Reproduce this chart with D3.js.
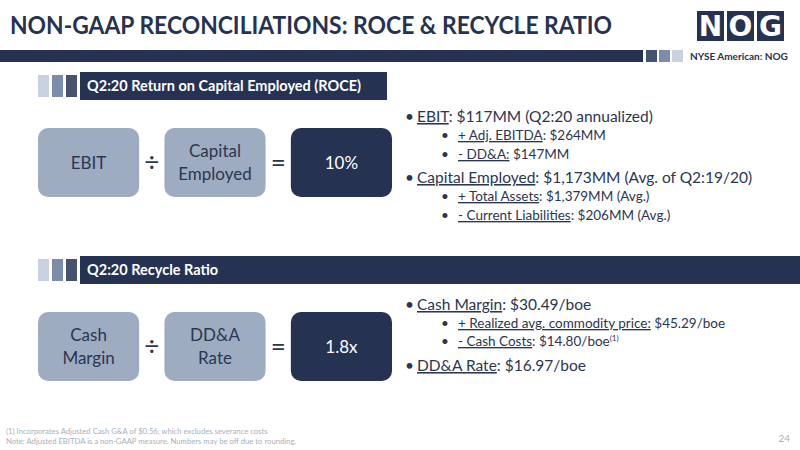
<!DOCTYPE html>
<html><head><meta charset="utf-8">
<script src="https://cdn.jsdelivr.net/npm/d3@7"></script>
<style>body{margin:0;background:#fff}</style>
</head><body>
<script>
const NAVY = "#263252", GREYBOX = "#9eacc2", TEXT = "#2b3650";
const sections = ["Q2:20 Return on Capital Employed (ROCE)", "Q2:20 Recycle Ratio"];
const numerators = [["EBIT"], ["Cash", "Margin"]];
const denominators = [["Capital", "Employed"], ["DD&A", "Rate"]];
const results = ["10%", "1.8x"];
// level, underlined label, rest, superscript
const bullets1 = [
  [0, "EBIT", ": $117MM (Q2:20 annualized)", ""],
  [1, "+ Adj. EBITDA", ": $264MM", ""],
  [1, "- DD&A:", " $147MM", ""],
  [0, "Capital Employed", ": $1,173MM (Avg. of Q2:19/20)", ""],
  [1, "+ Total Assets", ": $1,379MM (Avg.)", ""],
  [1, "- Current Liabilities", ": $206MM (Avg.)", ""]
];
const bullets2 = [
  [0, "Cash Margin", ": $30.49/boe", ""],
  [1, "+ Realized avg. commodity price:", " $45.29/boe", ""],
  [1, "- Cash Costs", ": $14.80/boe", "(1)"],
  [0, "DD&A Rate", ": $16.97/boe", ""]
];
const footnotes = ["(1) Incorporates Adjusted Cash G&A of $0.56, which excludes severance costs",
  "Note: Adjusted EBITDA is a non-GAAP measure. Numbers may be off due to rounding."];

const svg = d3.select("body").append("svg").attr("width", 800).attr("height", 450)
  .style("font-family", "Lato, 'Open Sans', sans-serif");

svg.append("text").attr("x", 10).attr("y", 34).attr("fill", NAVY)
  .attr("font-size", 24).attr("font-weight", "bold").attr("textLength", 602).attr("lengthAdjust", "spacingAndGlyphs")
  .text("NON-GAAP RECONCILIATIONS: ROCE & RECYCLE RATIO");
svg.append("rect").attr("x", 0).attr("y", 50).attr("width", 643).attr("height", 12).attr("fill", NAVY);
[["#46536f", 646], ["#7c8dab", 659], ["#cad2df", 672]].forEach(([c, x]) =>
  svg.append("rect").attr("x", x).attr("y", 50).attr("width", 11).attr("height", 12).attr("fill", c));
// logo
["N", "O", "G"].forEach((ch, i) => {
  svg.append("rect").attr("x", 697 + i * 30).attr("y", 11).attr("width", 27).attr("height", 30).attr("fill", NAVY);
  svg.append("text").attr("x", 710.5 + i * 30).attr("y", 36).attr("text-anchor", "middle")
    .attr("fill", "#fff").attr("font-size", 28).attr("font-weight", "900").attr("font-family", "'DejaVu Sans', sans-serif").text(ch);
});
svg.append("text").attr("x", 690).attr("y", 60).attr("fill", NAVY).attr("font-size", 10)
  .attr("font-weight", "bold").text("NYSE American: NOG");

const y = d3.scaleOrdinal().domain([0, 1]).range([72, 256]);
const boxX = d3.scaleBand().domain([0, 1, 2]).range([38, 392]).paddingInner(0.2);

sections.forEach((title, s) => {
  const top = y(s);
  [["#cad2df", 38], ["#7c8dab", 52], ["#46536f", 66]].forEach(([c, x]) =>
    svg.append("rect").attr("x", x).attr("y", top + 3).attr("width", 11).attr("height", 22).attr("fill", c));
  svg.append("rect").attr("x", 80).attr("y", top).attr("width", 307).attr("height", 28).attr("fill", NAVY);
  svg.append("text").attr("x", 87).attr("y", top + 19).attr("fill", "#fff").attr("font-size", 14.5)
    .attr("font-weight", "bold").text(title);
  if (s === 1) svg.append("rect").attr("x", 387).attr("y", top).attr("width", 413).attr("height", 28).attr("fill", NAVY);

  const by = top + 56, bh = 69;
  const labels = [numerators[s], denominators[s], [results[s]]];
  labels.forEach((lines, i) => {
    const x = boxX(i), w = boxX.bandwidth();
    svg.append("rect").attr("x", x).attr("y", by).attr("width", w).attr("height", bh).attr("rx", 10)
      .attr("fill", i === 2 ? NAVY : GREYBOX);
    lines.forEach((l, j) => svg.append("text").attr("x", x + w / 2)
      .attr("y", by + bh / 2 + 6 + (j - (lines.length - 1) / 2) * 23)
      .attr("text-anchor", "middle").attr("font-size", 17).attr("fill", i === 2 ? "#fff" : TEXT).text(l));
  });
  ["÷", "="].forEach((op, i) => svg.append("text")
    .attr("x", (boxX(i) + boxX.bandwidth() + boxX(i + 1)) / 2).attr("y", by + bh / 2 + 9)
    .attr("text-anchor", "middle").attr("font-size", 26).attr("fill", TEXT).text(op));
});

function drawBullets(list, ys) {
  list.forEach(([lvl, u, rest, sup], i) => {
    const bx = lvl ? 441 : 405, tx = lvl ? 458 : 417, fs = lvl ? 13.5 : 15.5;
    svg.append("text").attr("x", bx).attr("y", ys[i]).attr("font-size", fs).attr("fill", TEXT).text("•");
    const t = svg.append("text").attr("x", tx).attr("y", ys[i]).attr("font-size", fs).attr("fill", TEXT);
    t.append("tspan").attr("text-decoration", "underline").text(u);
    t.append("tspan").text(rest);
    if (sup) t.append("tspan").attr("font-size", 8).attr("dy", -5).text(sup);
  });
}
drawBullets(bullets1, [122, 140, 159, 183, 201, 220]);
drawBullets(bullets2, [310, 328, 346, 371]);

footnotes.forEach((f, i) => svg.append("text").attr("x", 6).attr("y", 434 + i * 10)
  .attr("font-size", 7.7).attr("fill", "#a9afbd").text(f));
svg.append("text").attr("x", 790).attr("y", 442).attr("text-anchor", "end")
  .attr("font-size", 10).attr("fill", "#a9afbd").text("24");
</script>
</body></html>
